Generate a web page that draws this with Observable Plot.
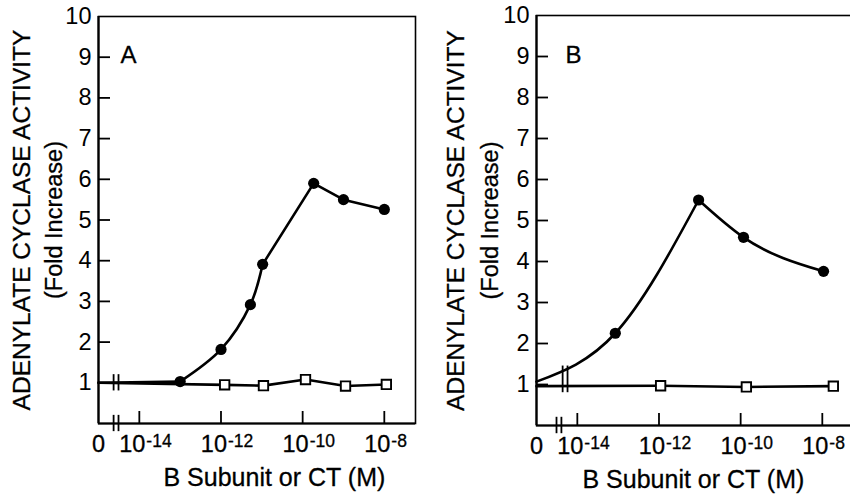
<!DOCTYPE html>
<html><head><meta charset="utf-8">
<script src="https://cdn.jsdelivr.net/npm/d3@7"></script>
<script src="https://cdn.jsdelivr.net/npm/@observablehq/plot@0.6"></script>
<style>
html,body{margin:0;padding:0;background:#fff;}
#wrap{position:relative;width:850px;height:494px;overflow:hidden;background:#fff;}
#wrap svg{position:absolute;top:0;}
</style></head><body><div id="wrap"></div>
<script>
// ---- data (x values are log10 of molar concentration; the "0" dose sits at the broken-axis origin) ----
const yTicks = [1, 2, 3, 4, 5, 6, 7, 8, 9, 10];
const xTickExponents = [-14, -12, -10, -8];
const zeroPosition = -15;
const yTitle = "ADENYLATE CYCLASE ACTIVITY";
const yTitle2 = "(Fold Increase)";
const xTitle = "B Subunit or CT (M)";

// Panel A
const aFilledLogDose = [-15, -13, -12, -11.28, -10.98, -9.73, -9.0, -8.0];
const aFilledActivity = [1.0, 1.03, 1.82, 2.92, 3.91, 5.90, 5.50, 5.26];
const aOpenLogDose = [-15, -11.91, -10.96, -9.93, -8.95, -7.95];
const aOpenActivity = [1.0, 0.95, 0.93, 1.08, 0.92, 0.96];
// Panel B
const bFilledLogDose = [-15, -13.07, -11.03, -9.93, -7.97];
const bFilledActivity = [1.07, 2.25, 5.50, 4.59, 3.76];
const bOpenLogDose = [-15, -11.96, -9.86, -7.73];
const bOpenActivity = [0.96, 0.97, 0.94, 0.96];

const FONT = "'Liberation Sans', Arial, Helvetica, sans-serif";
const rows = (xs, ys) => xs.map((x, i) => ({x, y: ys[i]}));

function panel(cfg) {
  const {width, height, mL, mR, mT, mB, letter, letterDx, letterDy, titleDx, foldDx, xTitleDx,
         axisBreak, lineBreak, lineBreakY, dataMarks} = cfg;
  const pxPerX = 40.83;
  const xMax = zeroPosition + (width - mL - mR) / pxPerX;
  const pxPerY = (height - mT - mB) / 10;
  const tickX = 12 / pxPerX, tickY = 12 / pxPerY;
  const txt = {fill: "black", stroke: "black", strokeWidth: 0.3};
  return Plot.plot({
    width, height,
    marginLeft: mL, marginRight: mR, marginTop: mT, marginBottom: mB,
    x: {type: "linear", domain: [zeroPosition, xMax], axis: null},
    y: {domain: [0, 10]},
    style: {fontFamily: FONT, background: "white", color: "black", overflow: "visible"},
    marks: [
      Plot.frame({stroke: "black", strokeWidth: 1.6}),
      Plot.ruleX([zeroPosition], {stroke: "black", strokeWidth: 2.2}),
      Plot.ruleY([0], {stroke: "black", strokeWidth: 2.2}),
      Plot.ruleY(yTicks.slice(0, -1), {y: d => d, x1: zeroPosition, x2: zeroPosition + tickX, stroke: "black", strokeWidth: 1.8}),
      Plot.ruleX(xTickExponents, {x: d => d, y1: 0, y2: tickY, stroke: "black", strokeWidth: 1.8}),
      Plot.axisY(yTicks, {tickSize: 0, tickPadding: 7, fontSize: 23.5, label: null, ...txt}),
      Plot.text([zeroPosition], {x: d => d, frameAnchor: "bottom", text: () => "0", textAnchor: "middle", lineAnchor: "top", dy: 12, fontSize: 23.5, ...txt}),
      Plot.text(xTickExponents, {x: d => d, frameAnchor: "bottom", text: () => "10", textAnchor: "end", dx: 6, lineAnchor: "top", dy: 12, fontSize: 23.5, ...txt}),
      Plot.text(xTickExponents, {x: d => d, frameAnchor: "bottom", text: d => "-" + (-d), textAnchor: "start", dx: 7, lineAnchor: "top", dy: 11, fontSize: 17.5, ...txt}),
      // axis breaks
      Plot.ruleX(axisBreak, {x: d => d, y1: -0.2, y2: 0.2, stroke: "black", strokeWidth: 1.8}),
      Plot.ruleX(lineBreak, {x: d => d, y1: lineBreakY[0], y2: lineBreakY[1], stroke: "black", strokeWidth: 1.8}),
      ...dataMarks,
      // titles
      Plot.text([yTitle], {frameAnchor: "left", rotate: -90, textAnchor: "middle", lineAnchor: "top", dx: titleDx, fontSize: 24.5, ...txt}),
      Plot.text([yTitle2], {frameAnchor: "left", rotate: -90, textAnchor: "middle", lineAnchor: "top", dx: foldDx, fontSize: 23.5, ...txt}),
      Plot.text([xTitle], {frameAnchor: "bottom-left", textAnchor: "start", lineAnchor: "top", dx: xTitleDx, dy: 45, fontSize: 25, ...txt}),
      Plot.text([letter], {frameAnchor: "top-left", textAnchor: "start", lineAnchor: "middle", dx: letterDx, dy: letterDy, fontSize: 24, ...txt})
    ]
  });
}

const lineStyle = {x: "x", y: "y", stroke: "black", strokeWidth: 2.6};
const dotStyle = {x: "x", y: "y", r: 5.6, fill: "black"};
const sqStyle = {x: "x", y: "y", r: 5.3, symbol: "square", fill: "white", stroke: "black", strokeWidth: 1.9};

const aF = rows(aFilledLogDose, aFilledActivity);
const aO = rows(aOpenLogDose, aOpenActivity);
const bF = rows(bFilledLogDose, bFilledActivity);
const bO = rows(bOpenLogDose, bOpenActivity);

const A = panel({
  width: 425, height: 494, mL: 98, mR: 10, mT: 16, mB: 71,
  letter: "A", letterDx: 22, letterDy: 39, titleDx: -86, foldDx: -53, xTitleDx: 65,
  axisBreak: [-14.63, -14.51], lineBreak: [-14.63, -14.51], lineBreakY: [0.8, 1.2],
  dataMarks: [
    Plot.line(aO, lineStyle),
    Plot.line(aF.slice(0, 2), lineStyle),
    Plot.line(aF.slice(1, 5), {...lineStyle, curve: "catmull-rom"}),
    Plot.line(aF.slice(4), lineStyle),
    Plot.dot(aO.slice(1), sqStyle),
    Plot.dot(aF.slice(1), dotStyle)
  ]
});

const B = panel({
  width: 440, height: 494, mL: 111, mR: 5, mT: 15, mB: 69,
  letter: "B", letterDx: 29, letterDy: 40, titleDx: -90, foldDx: -55, xTitleDx: 46,
  axisBreak: [-14.51, -14.39], lineBreak: [-14.36, -14.24], lineBreakY: [0.8, 1.45],
  dataMarks: [
    Plot.line(bO, lineStyle),
    Plot.line(bF.slice(0, 3), {...lineStyle, curve: "monotone-x"}),
    Plot.line(bF.slice(2), {...lineStyle, curve: "monotone-x"}),
    Plot.dot(bO.slice(1), sqStyle),
    Plot.dot(bF.slice(1), dotStyle)
  ]
});

const wrap = document.getElementById("wrap");
A.style.left = "0px";
B.style.left = "425px";
wrap.appendChild(A);
wrap.appendChild(B);
</script></body></html>
